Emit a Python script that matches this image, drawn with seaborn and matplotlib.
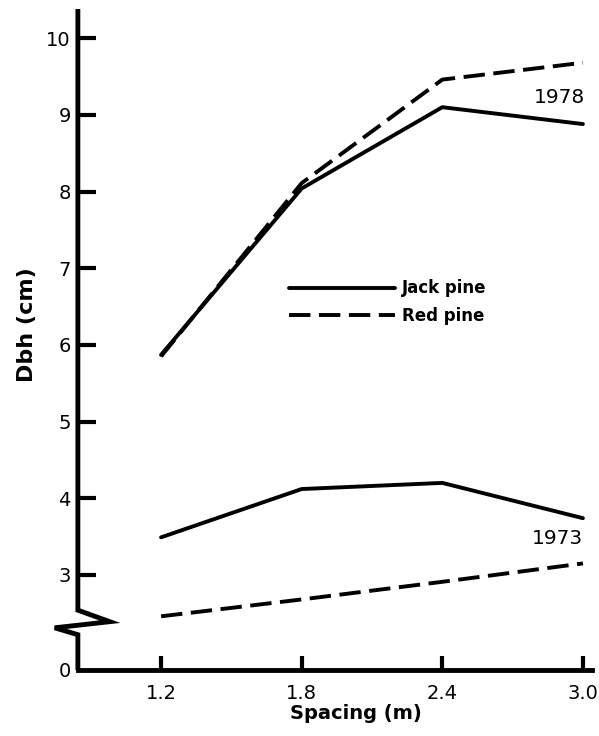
import numpy as np
import pandas as pd
import matplotlib
matplotlib.use("Agg")
import matplotlib.pyplot as plt
import matplotlib.transforms as mtransforms
from matplotlib.lines import Line2D
import seaborn as sns

# ---- data ----
spacing = [1.2, 1.8, 2.4, 3.0]
x_tick_labels = ["1.2", "1.8", "2.4", "3.0"]
jack_1978 = [5.87, 8.04, 9.10, 8.88]
red_1978 = [5.85, 8.11, 9.46, 9.68]
jack_1973 = [3.49, 4.12, 4.20, 3.74]
red_1973 = [2.46, 2.68, 2.91, 3.15]
species = ["Jack pine", "Red pine"]
years = ["1978", "1973"]
y_tick_values = [3, 4, 5, 6, 7, 8, 9, 10]

rows = []
for yr, (jk, rd) in zip(years, [(jack_1978, red_1978), (jack_1973, red_1973)]):
    for sp, vals in zip(species, [jk, rd]):
        for s, v in zip(spacing, vals):
            rows.append({"spacing": s, "dbh": v, "species": sp, "year": yr})
df = pd.DataFrame(rows)
df["unit"] = df["species"] + df["year"]

sns.set_style("white")
plt.rcParams["font.family"] = ["DejaVu Sans"]
plt.rcParams["text.color"] = "black"
plt.rcParams["axes.labelcolor"] = "black"

# broken axis: the "0" is drawn at this position below the break
zero_pos = 1.76
y_top = 10.38

fig = plt.figure(figsize=(5.99, 7.36), dpi=100)
ax = fig.add_axes([0.130, 0.0897, 0.858, 0.898])

sns.lineplot(data=df, x="spacing", y="dbh", style="species", units="unit",
             estimator=None, color="black", linewidth=2.8,
             dashes={"Jack pine": "", "Red pine": (5.5, 2.2)},
             legend=False, ax=ax)

ax.set_xlim(0.845, 3.038)
ax.set_ylim(zero_pos, y_top)
ax.set_xticks(spacing, labels=x_tick_labels)
ax.set_yticks([zero_pos] + y_tick_values,
              labels=["0"] + [str(v) for v in y_tick_values])

for side in ["top", "right", "left"]:
    ax.spines[side].set_visible(False)
ax.spines["bottom"].set_linewidth(3.5)
ax.spines["bottom"].set_color("black")

ax.tick_params(axis="y", left=True, direction="in", length=13, width=3,
               labelsize=14, pad=5, colors="black")
ax.tick_params(axis="x", bottom=True, direction="in", length=10, width=3,
               labelsize=14, pad=10, colors="black")
ax.yaxis.get_major_ticks()[0].tick1line.set_visible(False)

# left spine with break zigzag
trans = mtransforms.blended_transform_factory(ax.transAxes, ax.transData)
ax.plot([0, 0, 0.062, -0.045, 0, 0], [y_top, 2.54, 2.39, 2.31, 2.22, zero_pos],
        transform=trans, color="black", lw=3.5, clip_on=False,
        solid_joinstyle="miter", solid_capstyle="butt")

ax.text(3.01, 9.23, "1978", ha="right", va="center", fontsize=14.5, color="black")
ax.text(3.0, 3.47, "1973", ha="right", va="center", fontsize=14.5, color="black")

handles = [Line2D([], [], color="black", lw=2.8),
           Line2D([], [], color="black", lw=2.8, dashes=(5.5, 2.2))]
leg = ax.legend(handles, species, loc="center left", bbox_to_anchor=(1.745, 6.56),
                bbox_transform=ax.transData, frameon=False, handlelength=6.4,
                handletextpad=0.4, labelspacing=0.55, borderpad=0, borderaxespad=0,
                prop={"size": 12, "weight": "bold"})
for t in leg.get_texts():
    t.set_color("black")

ax.set_xlabel("Spacing (m)", fontsize=14, fontweight="bold", color="black")
ax.set_ylabel("Dbh (cm)", fontsize=16, fontweight="bold", color="black")
ax.xaxis.set_label_coords(0.541, -0.051)
ax.yaxis.set_label_coords(-0.08, 0.522)

fig.savefig("out.png", dpi=100)
